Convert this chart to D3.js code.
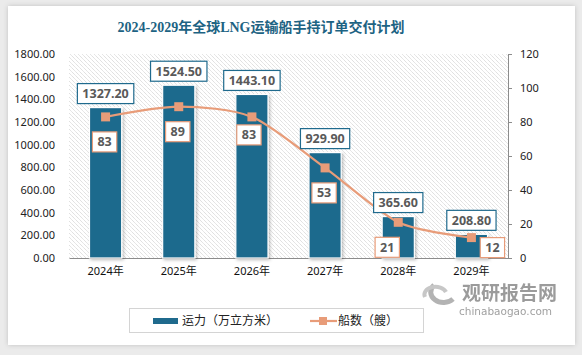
<!DOCTYPE html>
<html><head><meta charset="utf-8">
<script src="https://cdn.jsdelivr.net/npm/d3@7"></script>
<style>
html,body{margin:0;padding:0;background:#ebebeb;}
svg{display:block;}
</style></head>
<body>
<svg id="c" width="582" height="355"></svg>
<script>
const categories = ["2024年","2025年","2026年","2027年","2028年","2029年"];
const capacity = [1327.20, 1524.50, 1443.10, 929.90, 365.60, 208.80];
const ships = [83, 89, 83, 53, 21, 12];
const leftTicks = [0,200,400,600,800,1000,1200,1400,1600,1800];
const rightTicks = [0,20,40,60,80,100,120];
const title = "2024-2029年全球LNG运输船手持订单交付计划";
const legendBar = "运力（万立方米）";
const legendLine = "船数（艘）";

const svg = d3.select("#c");
const defs = svg.append("defs");
const f = defs.append("filter").attr("id","card").attr("x","-5%").attr("y","-5%").attr("width","110%").attr("height","110%");
f.append("feDropShadow").attr("dx",0).attr("dy",0).attr("stdDeviation",2.5).attr("flood-color","#000").attr("flood-opacity",0.18);
const bs = defs.append("filter").attr("id","bshadow").attr("x","-30%").attr("y","-30%").attr("width","160%").attr("height","160%");
bs.append("feDropShadow").attr("dx",1.5).attr("dy",1.5).attr("stdDeviation",1.5).attr("flood-color","#000").attr("flood-opacity",0.25);
const pat = defs.append("pattern").attr("id","hatch").attr("patternUnits","userSpaceOnUse").attr("width",4).attr("height",4);
pat.append("rect").attr("width",4).attr("height",4).attr("fill","#fff");
pat.append("path").attr("d","M-1,-1 L5,5").attr("stroke","#cfcfcf").attr("stroke-width",0.9).attr("stroke-dasharray","1,0.6");

// card
svg.append("rect").attr("x",8).attr("y",6).attr("width",567).attr("height",339).attr("fill","#fff").attr("filter","url(#card)");

const L = 69, R = 508, T = 54, B = 258;
const x = d3.scaleBand().domain(categories).range([L,R]).paddingInner(0.56).paddingOuter(0.28);
const yL = d3.scaleLinear().domain([0,1800]).range([B,T]);
const yR = d3.scaleLinear().domain([0,120]).range([B,T]);

svg.append("rect").attr("x",L).attr("y",T).attr("width",R-L).attr("height",B-T).attr("fill","url(#hatch)");

// title
svg.append("text").attr("x",261).attr("y",32).attr("text-anchor","middle")
  .attr("font-family","'Liberation Serif','Noto Sans CJK SC',serif").attr("font-weight","bold")
  .attr("font-size",14).attr("fill","#1d6383").text(title);

// left axis
const gl = svg.append("g").attr("transform",`translate(${L},0)`)
  .call(d3.axisLeft(yL).tickValues(leftTicks).tickFormat(d3.format(".2f")).tickSize(0).tickPadding(14));
gl.select(".domain").remove();
gl.selectAll("text").attr("font-family","'Noto Sans',sans-serif").attr("font-size",11).attr("fill","#222");

// right axis
const gr = svg.append("g").attr("transform",`translate(${R},0)`)
  .call(d3.axisRight(yR).tickValues(rightTicks).tickSize(4).tickPadding(8));
gr.select(".domain").attr("stroke","#8c8c8c");
gr.selectAll(".tick line").attr("stroke","#8c8c8c");
gr.selectAll("text").attr("font-family","'Noto Sans',sans-serif").attr("font-size",11).attr("fill","#222");

// bottom axis
const gb = svg.append("g").attr("transform",`translate(0,${B})`)
  .call(d3.axisBottom(x).tickSize(0).tickPadding(9));
gb.select(".domain").attr("stroke","#8c8c8c");
gb.selectAll("text").attr("font-family","'Noto Sans','Noto Sans CJK SC',sans-serif").attr("font-size",11).attr("fill","#111");

// bars
const barColor = "#1f6a8d";
svg.append("g").selectAll("rect").data(capacity).join("rect")
  .attr("x",(d,i)=>x(categories[i])).attr("width",x.bandwidth())
  .attr("y",d=>yL(d)).attr("height",d=>B-yL(d))
  .attr("fill",barColor).attr("stroke","#fff").attr("stroke-width",1.2).attr("filter","url(#bshadow)");

// line
const lineColor = "#e89c79";
const pts = ships.map((d,i)=>[x(categories[i])+x.bandwidth()/2, yR(d)]);
svg.append("path").attr("d",d3.line().curve(d3.curveCardinal.tension(0.2))(pts))
  .attr("fill","none").attr("stroke",lineColor).attr("stroke-width",2.2);
svg.append("g").selectAll("rect").data(pts).join("rect")
  .attr("x",p=>p[0]-4.5).attr("y",p=>p[1]-4.5).attr("width",9).attr("height",9).attr("fill",lineColor);

// labels
function labelBox(g, cx, cy, txt, stroke){
  const t = g.append("text").attr("x",cx).attr("y",cy).attr("text-anchor","middle").attr("dy","0.36em")
    .attr("font-family","'Noto Sans',sans-serif").attr("font-weight","bold").attr("font-size",12.5).attr("fill","#595959").text(txt);
  const w = t.node().getComputedTextLength();
  g.insert("rect","text").attr("x",cx-w/2-5).attr("y",cy-10).attr("width",w+10).attr("height",20)
    .attr("fill","#fff").attr("stroke",stroke).attr("stroke-width",1.2);
}
const lb = svg.append("g");
capacity.forEach((d,i)=>{
  const g = lb.append("g");
  labelBox(g, x(categories[i])+x.bandwidth()/2, yL(d)-14, d3.format(".2f")(d), "#1f6a8d");
});
function shipOffset(i){
  if(i===ships.length-1) return [21,10];
  if(i===ships.length-2) return [-11,25];
  if(i===2) return [-3,18];
  return [-1,25];
}
ships.forEach((d,i)=>{
  const g = lb.append("g");
  const o = shipOffset(i);
  labelBox(g, pts[i][0]+o[0], pts[i][1]+o[1], String(d), lineColor);
});

// legend
svg.append("rect").attr("x",129.5).attr("y",308.5).attr("width",294).attr("height",24).attr("fill","#fff").attr("stroke","#d4d4d4");
svg.append("rect").attr("x",153).attr("y",318).attr("width",25).attr("height",6).attr("fill",barColor);
svg.append("text").attr("x",182).attr("y",321).attr("dy","0.35em").attr("font-family","'Noto Sans CJK SC',sans-serif").attr("font-size",12).attr("fill","#222").text(legendBar);
svg.append("line").attr("x1",310).attr("x2",337).attr("y1",321).attr("y2",321).attr("stroke",lineColor).attr("stroke-width",2.2);
svg.append("rect").attr("x",319).attr("y",317).attr("width",8).attr("height",8).attr("fill",lineColor);
svg.append("text").attr("x",338).attr("y",321).attr("dy","0.35em").attr("font-family","'Noto Sans CJK SC',sans-serif").attr("font-size",12).attr("fill","#222").text(legendLine);

// watermark
const wm = svg.append("g").attr("opacity",0.75);
wm.append("path").attr("d","M434,285 A11,9 0 1,0 453,299").attr("fill","none").attr("stroke","#9a9a9a").attr("stroke-width",5);
wm.append("path").attr("d","M425,297 A10,7 0 0,1 446,292").attr("fill","none").attr("stroke","#b5b5b5").attr("stroke-width",4);
wm.append("text").attr("x",462).attr("y",300).attr("font-family","'Noto Sans CJK SC',sans-serif").attr("font-weight","bold").attr("font-size",19).attr("fill","#7a7a7a").text("观研报告网");
wm.append("text").attr("x",459).attr("y",315).attr("font-family","'DejaVu Sans',sans-serif").attr("font-size",10.5).attr("fill","#808080").text("chinabaogao.com");
</script>
</body></html>
